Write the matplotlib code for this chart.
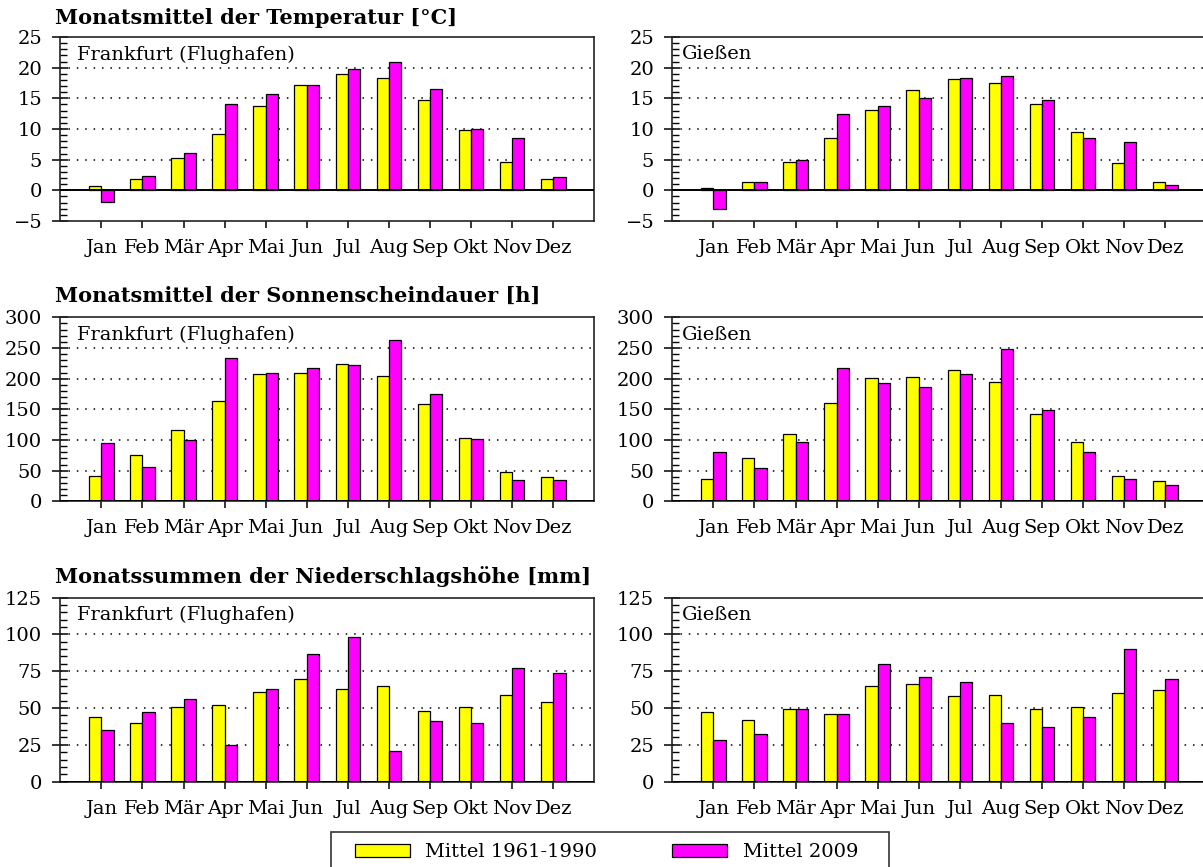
import matplotlib
matplotlib.use('Agg')
import matplotlib.pyplot as plt
from matplotlib.patches import Rectangle
from matplotlib.ticker import MultipleLocator
import numpy as np

# Months (x categories)
months = ['Jan', 'Feb', 'Mär', 'Apr', 'Mai', 'Jun', 'Jul', 'Aug', 'Sep', 'Okt', 'Nov', 'Dez']

# Temperature [°C]
temp_ffm_mean = [0.7, 1.8, 5.2, 9.2, 13.7, 17.1, 18.9, 18.3, 14.8, 9.8, 4.7, 1.8]
temp_ffm_2009 = [-1.9, 2.3, 6.1, 14.1, 15.7, 17.2, 19.8, 20.9, 16.5, 10.0, 8.5, 2.1]
temp_gi_mean = [0.3, 1.3, 4.7, 8.5, 13.1, 16.4, 18.1, 17.5, 14.1, 9.5, 4.4, 1.4]
temp_gi_2009 = [-3.1, 1.3, 4.9, 12.4, 13.7, 15.0, 18.3, 18.6, 14.8, 8.5, 7.8, 0.8]

# Sunshine duration [h]
sun_ffm_mean = [41, 75, 116, 163, 207, 209, 224, 204, 158, 103, 48, 39]
sun_ffm_2009 = [95, 56, 100, 233, 210, 218, 223, 263, 175, 102, 34, 35]
sun_gi_mean = [36, 71, 110, 160, 201, 203, 214, 195, 142, 97, 42, 33]
sun_gi_2009 = [80, 54, 97, 217, 193, 186, 207, 248, 149, 80, 37, 26]

# Precipitation [mm]
rain_ffm_mean = [44, 40, 51, 52, 61, 70, 63, 65, 48, 51, 59, 54]
rain_ffm_2009 = [35, 47, 56, 25, 63, 87, 98, 21, 41, 40, 77, 74]
rain_gi_mean = [47, 42, 49, 46, 65, 66, 58, 59, 49, 51, 60, 62]
rain_gi_2009 = [28, 32, 49, 46, 80, 71, 68, 40, 37, 44, 90, 70]

titles = ['Monatsmittel der Temperatur [°C]',
          'Monatsmittel der Sonnenscheindauer [h]',
          'Monatssummen der Niederschlagshöhe [mm]']
stations = ['Frankfurt (Flughafen)', 'Gießen']
series_labels = ['Mittel 1961-1990', 'Mittel 2009']

plt.rcParams['font.family'] = ['DejaVu Serif']

YELLOW = '#FFFF00'
MAGENTA = '#FF00FF'
W, H = 1203, 867
FS = 14


def draw_panel(ax, mean_vals, vals_2009, ylim, major, minor, station):
    x = np.arange(len(months))
    width = 0.3
    ax.bar(x - width / 2, mean_vals, width, color=YELLOW, edgecolor='black', linewidth=0.9)
    ax.bar(x + width / 2, vals_2009, width, color=MAGENTA, edgecolor='black', linewidth=0.9)

    ax.set_xlim(-1, 12)
    ax.set_ylim(*ylim)
    ax.set_xticks(x)
    ax.set_xticklabels(months)
    ax.yaxis.set_major_locator(MultipleLocator(major))
    ax.yaxis.set_minor_locator(MultipleLocator(minor))

    # dotted grid lines at the inner major ticks
    for yv in np.arange(ylim[0] + major, ylim[1], major):
        if yv != 0:
            ax.axhline(yv, color='black', linestyle=(0, (1, 4.5)), linewidth=1.1, zorder=0)
    ax.axhline(0, color='black', linewidth=1.4, zorder=3)

    ax.tick_params(axis='x', direction='out', length=5, width=1.1, pad=8, labelsize=FS)
    ax.tick_params(axis='y', which='major', direction='inout', length=12, width=1.1, pad=7, labelsize=FS)
    ax.tick_params(axis='y', which='minor', direction='in', length=5, width=1.0)
    for sp in ax.spines.values():
        sp.set_color('#222222')
        sp.set_linewidth(1.2)

    ax.text(0.018 if station == 'Gießen' else 0.032, 0.905, station, transform=ax.transAxes,
            fontsize=FS, va='center', ha='left')


fig = plt.figure(figsize=(W / 100, H / 100), dpi=100)

panel_data = [
    ((temp_ffm_mean, temp_ffm_2009), (temp_gi_mean, temp_gi_2009), (-5, 25), 5, 1),
    ((sun_ffm_mean, sun_ffm_2009), (sun_gi_mean, sun_gi_2009), (0, 300), 50, 10),
    ((rain_ffm_mean, rain_ffm_2009), (rain_gi_mean, rain_gi_2009), (0, 125), 25, 5),
]
row_tops = [37, 317.3, 597.6]
title_y = [18, 296, 577]
ax_h = 184
ax_w = 534

for r, (ffm, gi, ylim, major, minor) in enumerate(panel_data):
    bottom = 1 - (row_tops[r] + ax_h) / H
    ax1 = fig.add_axes([60.3 / W, bottom, ax_w / W, ax_h / H])
    draw_panel(ax1, ffm[0], ffm[1], ylim, major, minor, stations[0])
    ax2 = fig.add_axes([672.3 / W, bottom, ax_w / W, ax_h / H])
    draw_panel(ax2, gi[0], gi[1], ylim, major, minor, stations[1])
    fig.text(55 / W, 1 - title_y[r] / H, titles[r], fontsize=15, fontweight='bold',
             va='center', ha='left')

# Legend box along the bottom edge (frame runs off the canvas)
fig.add_artist(Rectangle((330.7 / W, -0.02), 558 / W, 0.02 + 1 - 831.7 / H,
                         transform=fig.transFigure, facecolor='white',
                         edgecolor='#333333', linewidth=1.2, zorder=5))
handles = [Rectangle((0, 0), 1, 1, facecolor=YELLOW, edgecolor='black', linewidth=0.9),
           Rectangle((0, 0), 1, 1, facecolor=MAGENTA, edgecolor='black', linewidth=0.9)]
leg = fig.legend(handles, series_labels, loc='center left', ncol=2, mode='expand',
                 bbox_to_anchor=(355 / W, 1 - 852 / H, 503 / W, 0), borderaxespad=0,
                 borderpad=0, fontsize=FS, frameon=False, handlelength=55 / 19.4,
                 handleheight=13 / 19.4, handletextpad=15 / 19.4)
leg.set_zorder(6)

fig.savefig('out.png', dpi=100)
